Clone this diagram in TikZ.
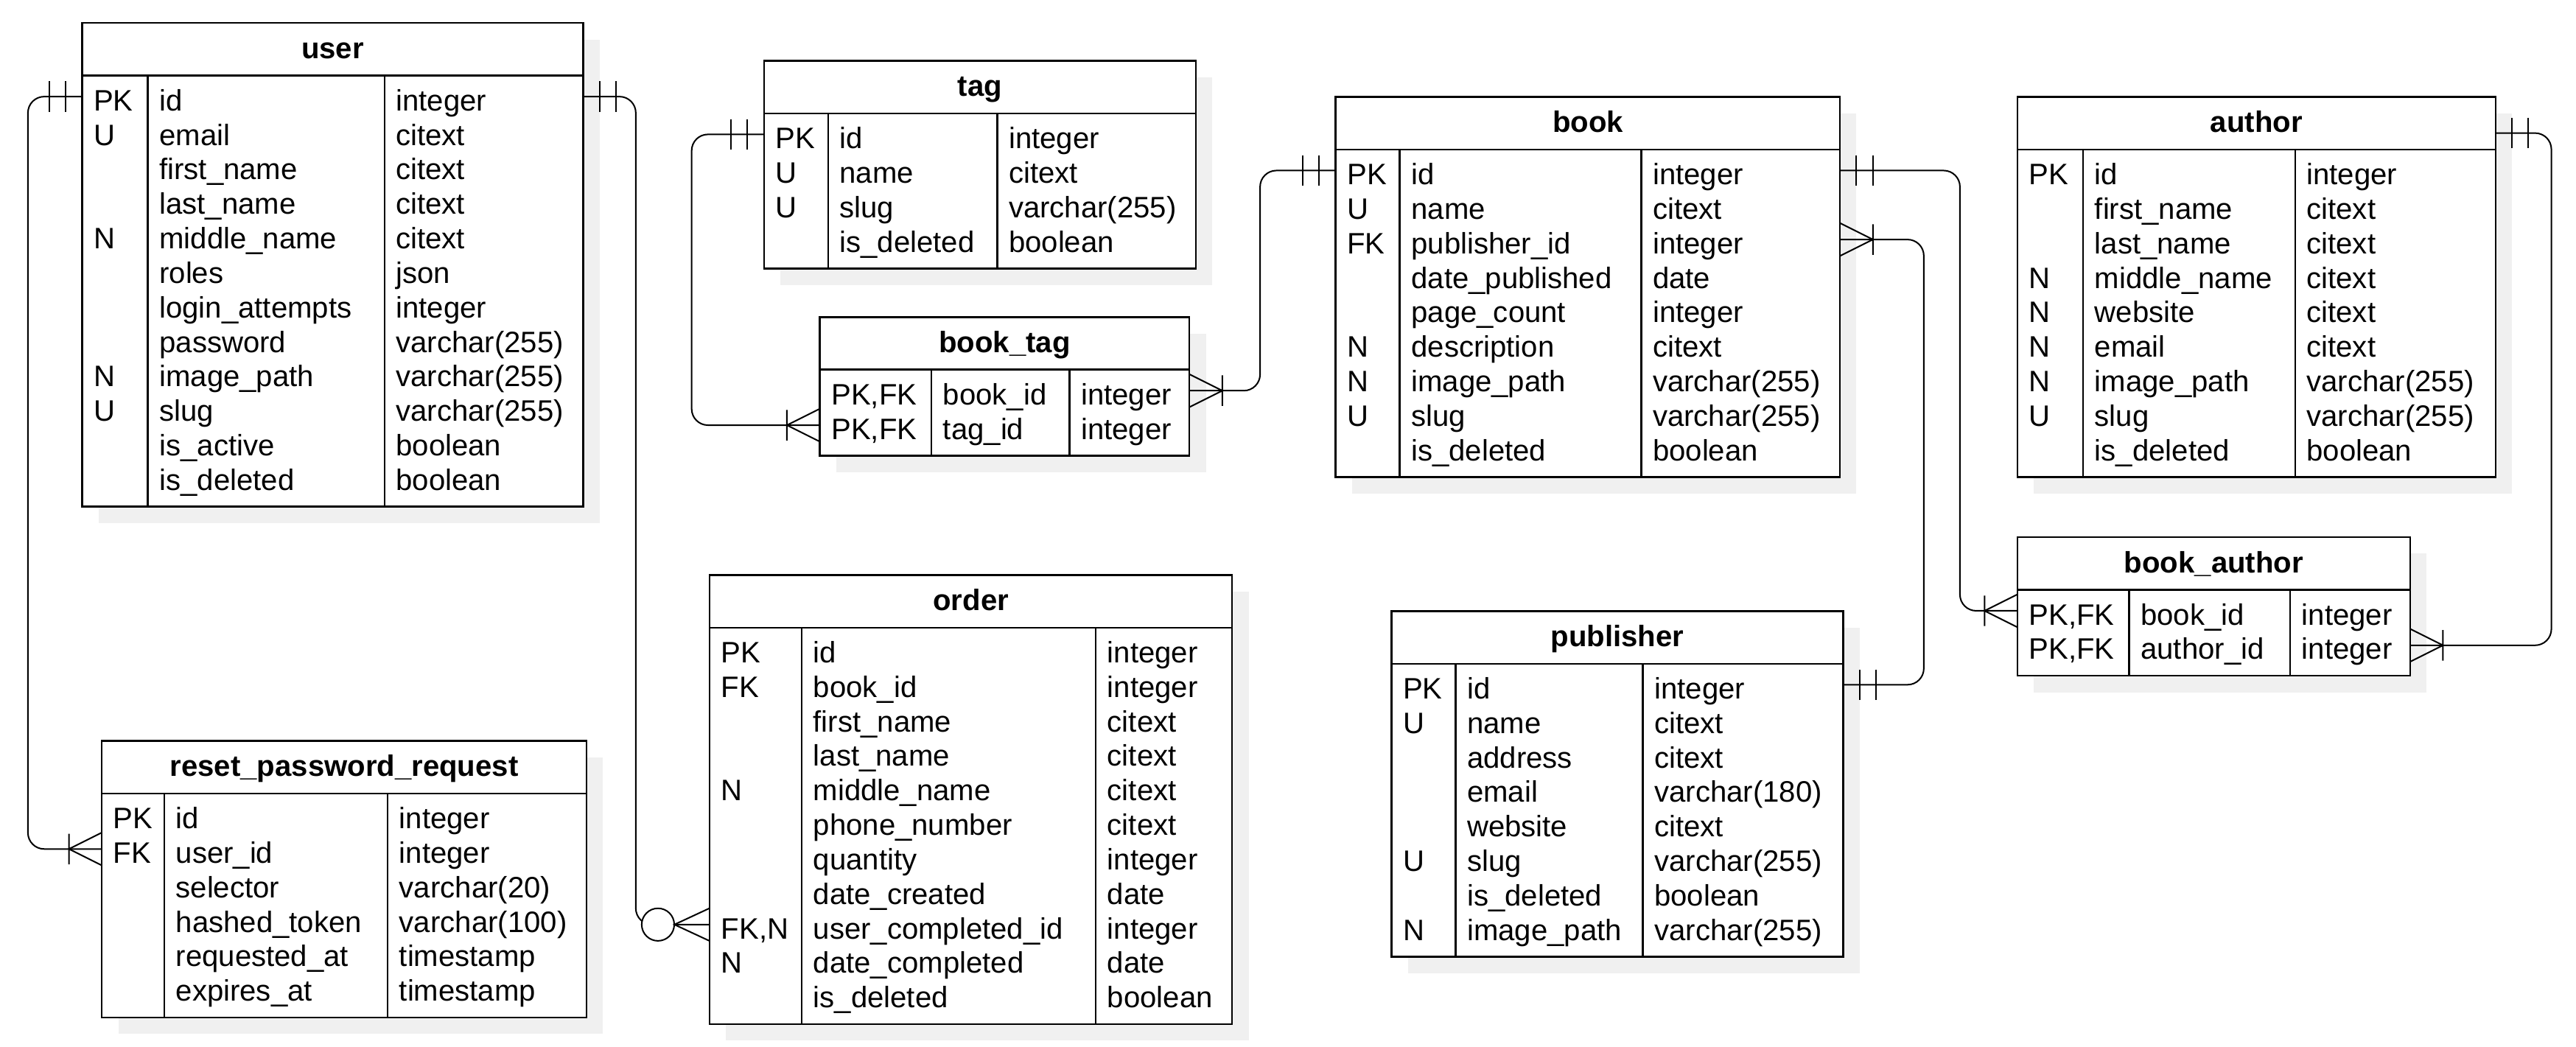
\documentclass[tikz,border=0pt]{standalone}
\usepackage{fontspec}
\setmainfont{Liberation Sans}
\usepackage{tikz}
\usetikzlibrary{calc,positioning,fit}

\tikzstyle{tbl}       = [draw, line width=0.6pt, fill=white, inner sep=0pt]
\tikzstyle{tblline}   = [line width=0.6pt]
\tikzstyle{tblshadow} = [fill=black!6]
\tikzstyle{tbltitle}  = [anchor=base, inner sep=0pt, font=\bfseries]
\tikzstyle{tblcell}   = [anchor=base west, inner sep=0pt]
\tikzstyle{rel}       = [draw, line width=0.5pt]
\tikzstyle{link}      = [rel, rounded corners=5.5pt]

% name, left, top, 1st split, 2nd split, right, title, rows
\newcommand{\ertable}[8]{%
  \foreach \ky/\nm/\ty [count=\i] in {#8} {\xdef\nrows{\i}}
  \pgfmathsetmacro{\tbot}{#3+42.4+21*\nrows}
  \fill[tblshadow] (#2+10,#3+10) rectangle (#6+10,\tbot+10);
  \node[tbl, fit={(#2,#3) (#6,\tbot)}] (#1) {};
  \draw[tblline] (#2,#3+32) -- (#6,#3+32)
    (#4,#3+32) -- (#4,\tbot) (#5,#3+32) -- (#5,\tbot);
  \node[tbltitle] (#1-title) at ({(#2+#6)/2},#3+21.5) {#7};
  \coordinate (#1-r0) at (#6,#3+22);
  \foreach \ky/\nm/\ty [count=\i] in {#8} {
    \pgfmathsetmacro{\ry}{#3+44.8+21*(\i-1)}
    \coordinate (#1-l\i) at (#2,\ry);
    \coordinate (#1-r\i) at (#6,\ry);
    \node[tblcell] (#1-k\i) at (#2+6.7,\ry+8.6) {\ky};
    \node[tblcell] (#1-n\i) at (#4+6.7,\ry+8.6) {\nm};
    \node[tblcell] (#1-t\i) at (#5+6.7,\ry+8.6) {\ty};
  }
}
\newcommand{\markone}[2]{%
  \draw[rel] ($(#1)+(#2*10,-9.3)$) -- ++(0,18.6)
             ($(#1)+(#2*20,-9.3)$) -- ++(0,18.6);}
\newcommand{\markmany}[2]{%
  \draw[rel] ($(#1)+(#2*20,-9.3)$) -- ++(0,18.6)
             ($(#1)+(0,-10)$) -- ($(#1)+(#2*20,0)$) -- ($(#1)+(0,10)$);}
\newcommand{\markzeromany}[2]{%
  \draw[rel, fill=white] ($(#1)+(#2*31.5,0)$) circle (5.5pt);
  \draw[rel] ($(#1)+(0,-10)$) -- ($(#1)+(#2*21.5,0)$) -- ($(#1)+(0,10)$);}

\begin{document}
\begin{tikzpicture}[x=0.5556pt, y=-0.5556pt]
	\useasboundingbox (0,0) rectangle (1568,637);

	\ertable{user}{50}{14}{90}{234}{355}{user}{PK/id/integer, U/email/citext,
		{}/first\_name/citext, {}/last\_name/citext, N/middle\_name/citext,
		{}/roles/json, {}/login\_attempts/integer, {}/password/varchar(255),
		N/image\_path/varchar(255), U/slug/varchar(255), {}/is\_active/boolean,
		{}/is\_deleted/boolean}
	\ertable{reset}{62}{451}{100}{236}{357}{reset\_password\_request}{PK/id/integer,
		FK/user\_id/integer, {}/selector/varchar(20), {}/hashed\_token/varchar(100),
		{}/requested\_at/timestamp, {}/expires\_at/timestamp}
	\ertable{tag}{465}{37}{504}{607}{728}{tag}{PK/id/integer, U/name/citext,
		U/slug/varchar(255), {}/is\_deleted/boolean}
	\ertable{booktag}{499}{193}{567}{651}{724}{book\_tag}{{PK,FK}/book\_id/integer,
		{PK,FK}/tag\_id/integer}
	\ertable{order}{432}{350}{488}{667}{750}{order}{PK/id/integer, FK/book\_id/integer,
		{}/first\_name/citext, {}/last\_name/citext, N/middle\_name/citext,
		{}/phone\_number/citext, {}/quantity/integer, {}/date\_created/date,
		{FK,N}/user\_completed\_id/integer, N/date\_completed/date, {}/is\_deleted/boolean}
	\ertable{book}{813}{59}{852}{999}{1120}{book}{PK/id/integer, U/name/citext,
		FK/publisher\_id/integer, {}/date\_published/date, {}/page\_count/integer,
		N/description/citext, N/image\_path/varchar(255), U/slug/varchar(255),
		{}/is\_deleted/boolean}
	\ertable{publisher}{847}{372}{886}{1000}{1122}{publisher}{PK/id/integer,
		U/name/citext, {}/address/citext, {}/email/varchar(180), {}/website/citext,
		U/slug/varchar(255), {}/is\_deleted/boolean, N/image\_path/varchar(255)}
	\ertable{author}{1228}{59}{1268}{1397}{1519}{author}{PK/id/integer,
		{}/first\_name/citext, {}/last\_name/citext, N/middle\_name/citext,
		N/website/citext, N/email/citext, N/image\_path/varchar(255),
		U/slug/varchar(255), {}/is\_deleted/boolean}
	\ertable{bookauthor}{1228}{327}{1296}{1394}{1467}{book\_author}{{PK,FK}/book\_id/integer,
		{PK,FK}/author\_id/integer}

	% relations
	\draw[link] (user-l1) -- ++(-33,0) |- (reset-l2);
	\markone{user-l1}{-1}
	\markmany{reset-l2}{-1}

	\draw[link] (user-r1) -- ++(32,0) |- (order-l9);
	\markone{user-r1}{1}
	\markzeromany{order-l9}{-1}

	\draw[link] (tag-l1) -- ++(-44,0) |- (booktag-l2);
	\markone{tag-l1}{-1}
	\markmany{booktag-l2}{-1}

	\draw[link] (book-l1) -- ++(-46,0) |- (booktag-r1);
	\markone{book-l1}{-1}
	\markmany{booktag-r1}{1}

	\draw[link] (book-r1) -- ++(73,0) |- (bookauthor-l1);
	\markone{book-r1}{1}
	\markmany{bookauthor-l1}{-1}

	\draw[link] (book-r3) -- ++(51,0) |- (publisher-r1);
	\markmany{book-r3}{1}
	\markone{publisher-r1}{1}

	\draw[link] (author-r0) -- ++(34,0) |- (bookauthor-r2);
	\markone{author-r0}{1}
	\markmany{bookauthor-r2}{1}
\end{tikzpicture}
\end{document}
